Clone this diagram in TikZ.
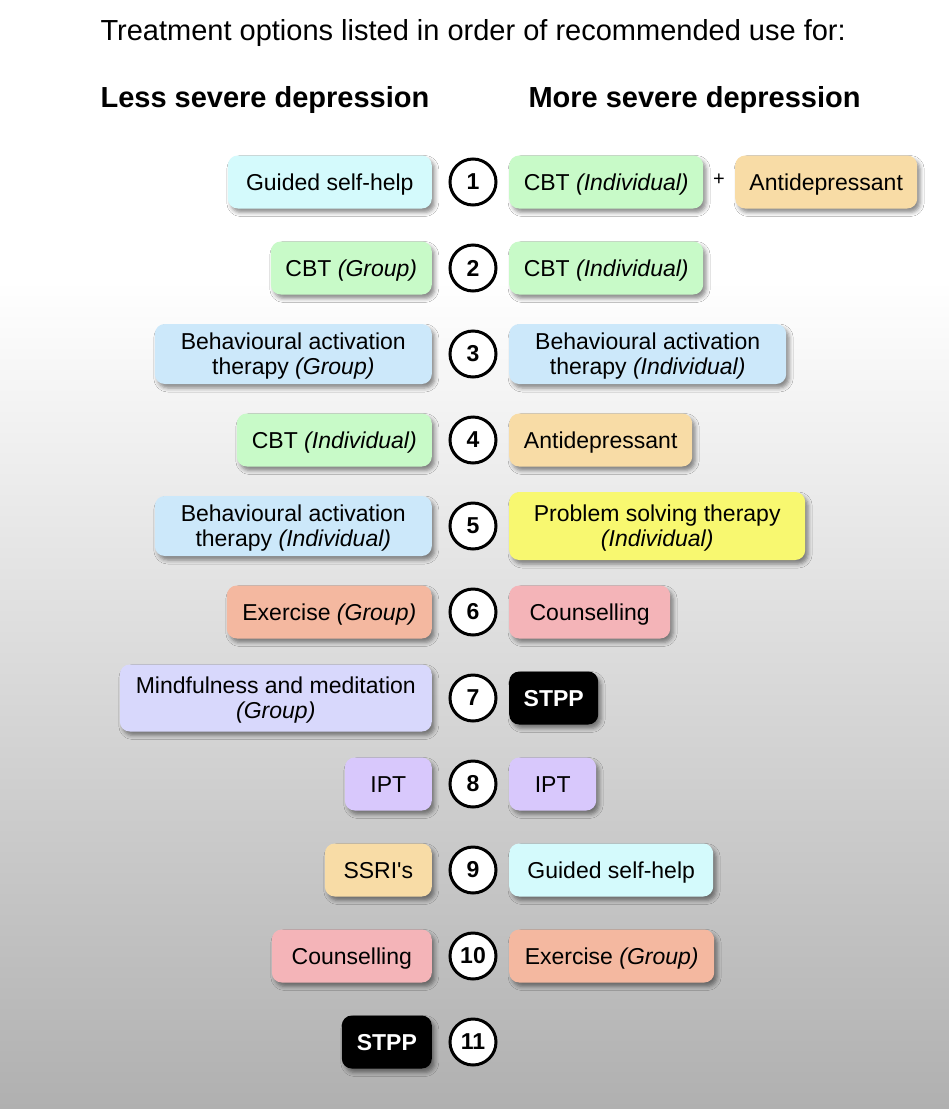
\documentclass[tikz,border=0pt]{standalone}
\usepackage{fontspec}
\setmainfont{Liberation Sans}
\newfontfamily\plainfont{Liberation Sans}
\usetikzlibrary{shadows.blur}

\definecolor{guidedcol}{RGB}{212,250,252}
\definecolor{cbtcol}{RGB}{200,250,200}
\definecolor{bacol}{RGB}{204,232,250}
\definecolor{drugcol}{RGB}{248,220,166}
\definecolor{pstcol}{RGB}{248,248,112}
\definecolor{exercol}{RGB}{244,184,160}
\definecolor{counscol}{RGB}{244,180,184}
\definecolor{mindcol}{RGB}{216,216,252}
\definecolor{iptcol}{RGB}{216,200,252}

\newcommand{\tallstrut}{\rule{0pt}{21pt}}

\tikzset{
  opt/.style={rounded corners=10pt, align=center, inner sep=0pt,
    minimum height=53pt, font=\fontsize{23}{25}\selectfont,
    blur shadow={shadow xshift=3pt, shadow yshift=-4pt,
      shadow blur radius=4pt, shadow opacity=45}},
  oneline/.style={opt, text height=21pt, text depth=5pt},
  stpp/.style={oneline, fill=black, text=white, font=\fontsize{23}{25}\selectfont\bfseries},
  rank/.style={circle, draw, line width=3pt, fill=white, inner sep=0pt,
    minimum size=46pt, font=\fontsize{23}{23}\selectfont\bfseries},
}

\begin{document}
\begin{tikzpicture}[x=1pt,y=-1pt]
\useasboundingbox (0,0) rectangle (949,1109);
\fill[white] (0,0) rectangle (949,280);
\shade[top color=white,bottom color=gray!62] (0,280) rectangle (949,1109);

% headings
\node[anchor=base west,font=\fontsize{29}{29}\selectfont] (title) at (97,40) {Treatment options listed in order of recommended use for:};
\node[anchor=base west,font=\fontsize{29}{29}\selectfont\bfseries] (less) at (97,107) {Less severe depression};
\node[anchor=base west,font=\fontsize{29}{29}\selectfont\bfseries] (more) at (525,107) {More severe depression};

% ranks
\node[rank] (n1) at (473,182) {1};
\node[rank] (n2) at (473,268) {2};
\node[rank] (n3) at (473,354) {3};
\node[rank] (n4) at (473,440) {4};
\node[rank] (n5) at (473,526) {5};
\node[rank] (n6) at (473,612) {6};
\node[rank] (n7) at (473,698) {7};
\node[rank] (n8) at (473,784) {8};
\node[rank] (n9) at (473,870) {9};
\node[rank] (n10) at (473,956) {10};
\node[rank] (n11) at (473,1042) {11};

% less severe
\node[oneline,fill=guidedcol,anchor=east,minimum width=204pt] (l1) at (432,182) {Guided self-help};
\node[oneline,fill=cbtcol,anchor=east,minimum width=161pt] (l2) at (432,268) {CBT \textit{(Group)}};
\node[opt,fill=bacol,anchor=east,minimum width=277pt,minimum height=60pt] (l3) at (432,354) {\tallstrut Behavioural activation\\therapy \textit{(Group)}};
\node[oneline,fill=cbtcol,anchor=east,minimum width=195pt] (l4) at (432,440) {CBT \textit{(Individual)}};
\node[opt,fill=bacol,anchor=east,minimum width=277pt,minimum height=60pt] (l5) at (432,526) {\tallstrut Behavioural activation\\therapy \textit{(Individual)}};
\node[oneline,fill=exercol,anchor=east,minimum width=205pt] (l6) at (432,612) {Exercise \textit{(Group)}};
\node[opt,fill=mindcol,anchor=east,minimum width=312pt,minimum height=67pt] (l7) at (432,698) {\tallstrut Mindfulness and meditation\\\textit{(Group)}};
\node[oneline,fill=iptcol,anchor=east,minimum width=87pt] (l8) at (432,784) {IPT};
\node[oneline,fill=drugcol,anchor=east,minimum width=107pt] (l9) at (432,870) {\plainfont SSRI's};
\node[oneline,fill=counscol,anchor=east,minimum width=160pt] (l10) at (432,956) {Counselling};
\node[stpp,anchor=east,minimum width=90pt] (l11) at (432,1042) {STPP};

% more severe
\node[oneline,fill=cbtcol,anchor=west,minimum width=194pt] (r1) at (509,182) {CBT \textit{(Individual)}};
\node[font=\fontsize{20}{20}\selectfont] (plus) at (719,180) {+};
\node[oneline,fill=drugcol,anchor=west,minimum width=182pt] (r1b) at (735,182) {Antidepressant};
\node[oneline,fill=cbtcol,anchor=west,minimum width=194pt] (r2) at (509,268) {CBT \textit{(Individual)}};
\node[opt,fill=bacol,anchor=west,minimum width=277pt,minimum height=60pt] (r3) at (509,354) {\tallstrut Behavioural activation\\therapy \textit{(Individual)}};
\node[oneline,fill=drugcol,anchor=west,minimum width=183pt] (r4) at (509,440) {Antidepressant};
\node[opt,fill=pstcol,anchor=west,minimum width=296pt,minimum height=68pt] (r5) at (509,526) {\tallstrut Problem solving therapy\\\textit{(Individual)}};
\node[oneline,fill=counscol,anchor=west,minimum width=161pt] (r6) at (509,612) {Counselling};
\node[stpp,anchor=west,minimum width=89pt] (r7) at (509,698) {STPP};
\node[oneline,fill=iptcol,anchor=west,minimum width=87pt] (r8) at (509,784) {IPT};
\node[oneline,fill=guidedcol,anchor=west,minimum width=204pt] (r9) at (509,870) {Guided self-help};
\node[oneline,fill=exercol,anchor=west,minimum width=205pt] (r10) at (509,956) {Exercise \textit{(Group)}};
\end{tikzpicture}
\end{document}
